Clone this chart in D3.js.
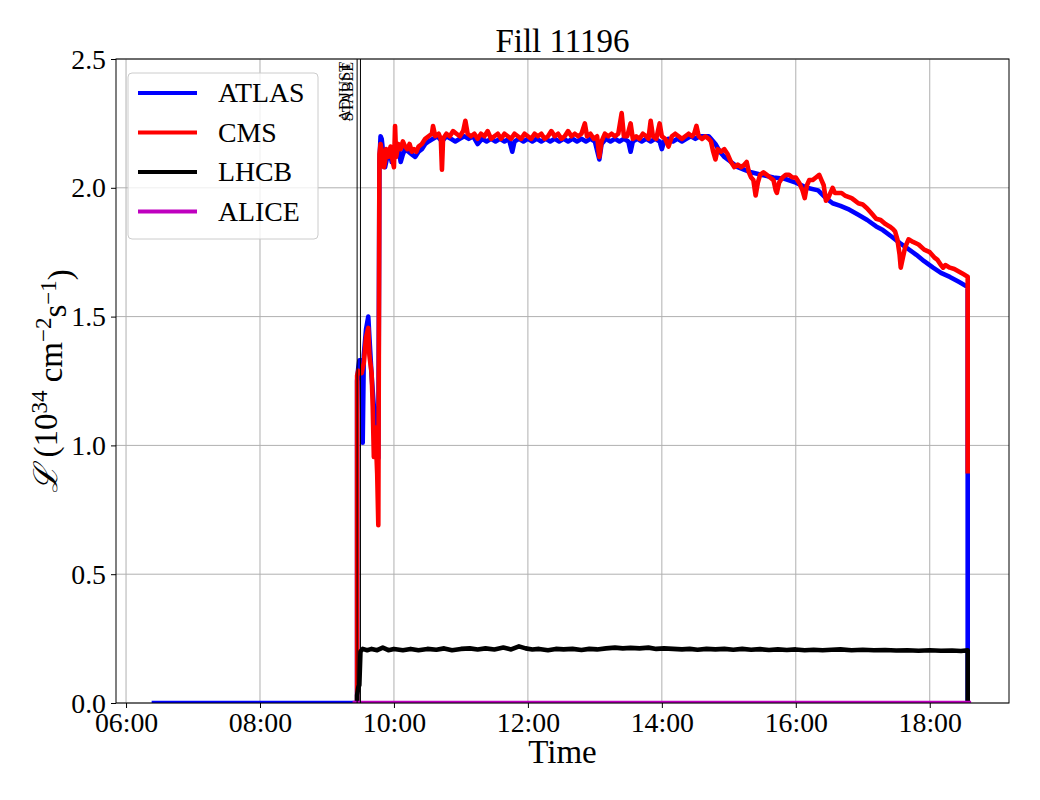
<!DOCTYPE html>
<meta charset="utf-8">
<style>
body { margin: 0; background: #fff; }
text { font-family: "Liberation Serif", "DejaVu Serif", serif; fill: #000; }
.grid line { stroke: #b0b0b0; stroke-width: 1px; }
.series { fill: none; stroke-width: 4.6px; stroke-linejoin: round; stroke-linecap: square; }
</style>
<body>
<script src="https://d3js.org/d3.v7.min.js"></script>
<script>

// luminosity per experiment, [time, 1e34 cm^-2 s^-1]
var atlas = [
  ["06:25",0],["09:27",0],["09:27",1.25],["09:28",1.30],["09:29",1.33],["09:31",1.33],["09:32",1.01],["09:33",1.35],
  ["09:35",1.45],["09:37",1.50],["09:38",1.42],["09:40",1.27],["09:42",1.15],["09:43",1.13],["09:45",0.98],["09:46",0.95],
  ["09:47",2.10],["09:48",2.20],["09:49",2.19],["09:50",2.15],["09:51",2.09],["09:52",2.08],["09:54",2.12],["09:56",2.15],
  ["09:58",2.10],["10:00",2.13],["10:02",2.15],["10:04",2.16],["10:06",2.10],["10:08",2.13],["10:10",2.15],["10:13",2.14],
  ["10:16",2.13],["10:19",2.12],["10:22",2.14],["10:25",2.15],["10:28",2.17],["10:31",2.18],["10:35",2.19],["10:39",2.20],
  ["10:43",2.18],["10:47",2.20],["10:51",2.19],["10:55",2.18],["10:59",2.19],["11:03",2.20],["11:07",2.19],["11:11",2.20],
  ["11:15",2.17],["11:19",2.19],["11:23",2.18],["11:27",2.19],["11:31",2.18],["11:35",2.19],["11:39",2.18],["11:43",2.19],
  ["11:46",2.14],["11:48",2.18],["11:52",2.19],["11:56",2.18],["12:00",2.19],["12:04",2.18],["12:08",2.19],["12:12",2.18],
  ["12:16",2.19],["12:20",2.18],["12:24",2.19],["12:28",2.18],["12:32",2.19],["12:36",2.18],["12:40",2.19],["12:44",2.18],
  ["12:48",2.19],["12:52",2.18],["12:56",2.19],["13:00",2.18],["13:04",2.11],["13:06",2.17],["13:10",2.19],["13:14",2.18],
  ["13:18",2.19],["13:22",2.18],["13:26",2.19],["13:30",2.18],["13:32",2.14],["13:34",2.18],["13:38",2.19],["13:42",2.18],
  ["13:46",2.19],["13:50",2.18],["13:54",2.19],["13:58",2.18],["14:00",2.15],["14:02",2.18],["14:06",2.19],["14:10",2.18],
  ["14:14",2.19],["14:18",2.18],["14:22",2.19],["14:26",2.20],["14:30",2.19],["14:34",2.20],["14:38",2.20],["14:42",2.20],
  ["14:44",2.19],["14:48",2.17],["14:52",2.14],["14:56",2.12],["15:02",2.10],["15:08",2.08],["15:14",2.07],["15:20",2.06],
  ["15:30",2.05],["15:40",2.04],["15:50",2.035],["16:00",2.02],["16:10",2.00],["16:20",1.99],["16:27",1.96],["16:33",1.94],
  ["16:40",1.93],["16:48",1.915],["16:56",1.895],["17:04",1.875],["17:12",1.85],["17:18",1.836],["17:26",1.81],["17:33",1.786],
  ["17:40",1.765],["17:48",1.74],["17:55",1.715],["18:03",1.69],["18:10",1.67],["18:18",1.654],["18:26",1.635],["18:34",1.615],
  ["18:34",0]
];

var cms = [
  ["09:27",0],["09:27",1.27],["09:28",1.29],["09:30",1.28],["09:31",1.28],["09:33",1.32],["09:35",1.42],["09:37",1.456],
  ["09:38",1.35],["09:40",1.28],["09:41",1.15],["09:42",0.955],["09:43",1.07],["09:44",1.00],["09:45",0.89],["09:46",0.69],
  ["09:47",2.13],["09:48",2.17],["09:50",2.12],["09:51",2.08],["09:52",2.10],["09:53",2.15],["09:55",2.12],["09:57",2.16],
  ["09:59",2.10],["10:00",2.08],["10:01",2.24],["10:02",2.12],["10:04",2.17],["10:06",2.15],["10:08",2.18],["10:10",2.16],
  ["10:12",2.15],["10:14",2.17],["10:16",2.14],["10:18",2.15],["10:20",2.14],["10:22",2.16],["10:25",2.17],["10:28",2.19],
  ["10:31",2.20],["10:34",2.21],["10:35",2.24],["10:37",2.20],["10:40",2.21],["10:42",2.19],["10:43",2.07],["10:44",2.19],
  ["10:47",2.21],["10:50",2.20],["10:53",2.22],["10:56",2.21],["10:59",2.20],["11:02",2.22],["11:04",2.26],["11:06",2.21],
  ["11:09",2.20],["11:12",2.21],["11:15",2.19],["11:18",2.21],["11:21",2.20],["11:24",2.22],["11:27",2.19],["11:30",2.20],
  ["11:33",2.21],["11:36",2.19],["11:39",2.21],["11:42",2.20],["11:45",2.19],["11:48",2.21],["11:51",2.20],["11:54",2.19],
  ["11:57",2.21],["12:00",2.20],["12:03",2.19],["12:06",2.21],["12:09",2.20],["12:12",2.21],["12:15",2.19],["12:18",2.20],
  ["12:21",2.22],["12:24",2.20],["12:27",2.21],["12:30",2.19],["12:33",2.20],["12:36",2.22],["12:39",2.20],["12:42",2.21],
  ["12:45",2.20],["12:48",2.21],["12:51",2.25],["12:53",2.20],["12:56",2.21],["12:59",2.19],["13:02",2.20],["13:04",2.12],
  ["13:06",2.18],["13:09",2.21],["13:12",2.20],["13:15",2.21],["13:18",2.20],["13:21",2.21],["13:24",2.29],["13:26",2.20],
  ["13:29",2.20],["13:32",2.25],["13:34",2.19],["13:37",2.20],["13:40",2.19],["13:43",2.21],["13:46",2.20],["13:48",2.19],
  ["13:50",2.26],["13:52",2.20],["13:55",2.19],["13:58",2.25],["14:00",2.20],["14:03",2.19],["14:06",2.16],["14:09",2.20],
  ["14:12",2.21],["14:15",2.20],["14:18",2.19],["14:21",2.20],["14:24",2.21],["14:27",2.20],["14:29",2.21],["14:31",2.24],
  ["14:33",2.20],["14:36",2.19],["14:39",2.20],["14:42",2.19],["14:44",2.18],["14:46",2.14],["14:48",2.11],["14:50",2.15],
  ["14:53",2.14],["14:56",2.15],["14:59",2.13],["15:02",2.10],["15:05",2.08],["15:08",2.09],["15:11",2.08],["15:14",2.09],
  ["15:16",2.10],["15:18",2.06],["15:20",2.04],["15:22",2.03],["15:24",1.97],["15:26",2.02],["15:28",2.05],["15:31",2.06],
  ["15:34",2.05],["15:37",2.04],["15:40",2.03],["15:42",1.99],["15:43",1.98],["15:45",2.02],["15:48",2.04],["15:51",2.05],
  ["15:54",2.05],["15:57",2.04],["16:00",2.04],["16:03",2.02],["16:06",1.99],["16:08",1.96],["16:10",2.01],["16:12",2.03],
  ["16:15",2.03],["16:18",2.04],["16:21",2.05],["16:23",2.03],["16:25",2.01],["16:27",1.95],["16:29",1.96],["16:31",1.98],
  ["16:33",2.00],["16:35",1.98],["16:38",1.98],["16:41",1.98],["16:44",1.97],["16:47",1.965],["16:50",1.96],["16:53",1.95],
  ["16:56",1.94],["17:00",1.935],["17:04",1.92],["17:08",1.90],["17:12",1.88],["17:16",1.875],["17:20",1.86],["17:24",1.85],
  ["17:27",1.84],["17:29",1.83],["17:31",1.80],["17:33",1.74],["17:34",1.69],["17:36",1.73],["17:38",1.77],["17:41",1.80],
  ["17:45",1.79],["17:50",1.78],["17:55",1.76],["18:00",1.75],["18:04",1.73],["18:07",1.72],["18:10",1.70],["18:12",1.69],
  ["18:14",1.70],["18:18",1.69],["18:22",1.685],["18:26",1.675],["18:30",1.665],["18:34",1.655],["18:34",0.90]
];

var lhcb = [
  ["09:27",0],["09:27",0.03],["09:28",0.06],["09:29",0.07],["09:30",0.20],["09:32",0.21],["09:36",0.205],["09:40",0.21],
  ["09:45",0.205],["09:50",0.215],["09:55",0.205],["10:00",0.21],["10:08",0.205],["10:15",0.21],["10:22",0.205],["10:30",0.21],
  ["10:38",0.207],["10:45",0.212],["10:52",0.205],["11:00",0.21],["11:08",0.212],["11:15",0.208],["11:22",0.212],["11:30",0.208],
  ["11:38",0.215],["11:45",0.208],["11:52",0.22],["11:58",0.212],["12:04",0.208],["12:10",0.21],["12:18",0.205],["12:25",0.21],
  ["12:32",0.208],["12:40",0.21],["12:48",0.206],["12:55",0.21],["13:02",0.208],["13:10",0.212],["13:18",0.215],["13:25",0.212],
  ["13:32",0.214],["13:40",0.212],["13:48",0.215],["13:55",0.21],["14:02",0.212],["14:10",0.21],["14:18",0.208],["14:25",0.21],
  ["14:32",0.207],["14:40",0.21],["14:48",0.208],["14:56",0.21],["15:04",0.207],["15:12",0.21],["15:20",0.207],["15:28",0.209],
  ["15:36",0.206],["15:44",0.208],["15:52",0.206],["16:00",0.208],["16:08",0.205],["16:16",0.207],["16:24",0.205],["16:32",0.207],
  ["16:40",0.208],["16:50",0.205],["17:00",0.207],["17:10",0.205],["17:20",0.206],["17:30",0.204],["17:40",0.205],["17:50",0.203],
  ["18:00",0.205],["18:10",0.203],["18:20",0.204],["18:28",0.202],["18:34",0.205],["18:34",0]
];

var alice = [["09:25",0],["18:35",0]];

var seriesNames = ["ATLAS", "CMS", "LHCB", "ALICE"];
var seriesColors = ["#0000ff", "#ff0000", "#000000", "#bf00bf"];
var beamModes = [["ADJUST", "09:27"], ["STABLE", "09:30"]];
var yTicks = [0, 0.5, 1.0, 1.5, 2.0, 2.5];
var xTicks = ["06:00", "08:00", "10:00", "12:00", "14:00", "16:00", "18:00"];

var W = 1040, H = 800;
var margin = {top: 59, right: 31, bottom: 97, left: 116},
    width = W - margin.left - margin.right,
    height = H - margin.top - margin.bottom;

var serif = "'Liberation Serif', 'DejaVu Serif', serif";
var parseTime = d3.timeParse("%H:%M");

var x = d3.scaleTime().domain([parseTime("05:51"), parseTime("19:11")]).range([0, width]);
var y = d3.scaleLinear().domain([0, 2.5]).range([height, 0]);

var svg = d3.select("body").append("svg")
    .attr("width", W)
    .attr("height", H);

var g = svg.append("g")
    .attr("transform", "translate(" + margin.left + "," + margin.top + ")");

svg.append("defs").append("clipPath").attr("id", "plot")
  .append("rect").attr("width", width).attr("height", height);

// grid
g.append("g").attr("class", "grid")
  .selectAll("line").data(xTicks).enter().append("line")
    .attr("x1", function(d) { return x(parseTime(d)); })
    .attr("x2", function(d) { return x(parseTime(d)); })
    .attr("y1", 0).attr("y2", height);
g.append("g").attr("class", "grid")
  .selectAll("line").data(yTicks).enter().append("line")
    .attr("y1", function(d) { return y(d); })
    .attr("y2", function(d) { return y(d); })
    .attr("x1", 0).attr("x2", width);

// series
var line = d3.line()
    .x(function(d) { return x(parseTime(d[0])); })
    .y(function(d) { return y(d[1]); });

var data = [atlas, cms, lhcb, alice];
var plot = g.append("g").attr("clip-path", "url(#plot)");
data.forEach(function(s, i) {
  plot.append("path")
      .datum(s)
      .attr("class", "series")
      .style("stroke", seriesColors[i])
      .attr("d", line);
});

// beam mode markers
beamModes.forEach(function(m) {
  var bx = x(parseTime(m[1]));
  g.append("line")
      .attr("x1", bx).attr("x2", bx)
      .attr("y1", 0).attr("y2", height)
      .style("stroke", "#000").style("stroke-width", 1);
  g.append("text")
      .attr("transform", "translate(" + (bx - 7) + ",3) rotate(-90)")
      .attr("text-anchor", "end")
      .style("font-size", "16px")
      .text(m[0]);
});

// axes
var xAxis = d3.axisBottom(x)
    .tickValues(xTicks.map(parseTime))
    .tickFormat(d3.timeFormat("%H:%M"))
    .tickSize(5).tickPadding(5);
var yAxis = d3.axisLeft(y)
    .tickValues(yTicks)
    .tickFormat(d3.format(".1f"))
    .tickSize(5).tickPadding(5);

var gx = g.append("g").attr("transform", "translate(0," + height + ")").call(xAxis);
var gy = g.append("g").call(yAxis);
[gx, gy].forEach(function(a) {
  a.attr("font-family", null).attr("font-size", null);
  a.select(".domain").remove();
  a.selectAll(".tick line").style("stroke", "#000");
  a.selectAll("text").style("font-family", serif).style("font-size", "27.8px").style("fill", "#000");
});
gx.selectAll("text").attr("dy", "0.72em").attr("y", 9);
gy.selectAll("text").attr("dy", "0.33em");

g.append("rect")
    .attr("width", width).attr("height", height)
    .style("fill", "none").style("stroke", "#000").style("stroke-width", 1);

// legend
var leg = g.append("g").attr("transform", "translate(12,14)");
leg.append("rect")
    .attr("width", 190).attr("height", 166).attr("rx", 4)
    .style("fill", "#fff").style("fill-opacity", 0.8)
    .style("stroke", "#cccccc").style("stroke-width", 1);
seriesNames.forEach(function(n, i) {
  var ly = 20 + i * 39.5;
  leg.append("line")
      .attr("x1", 10).attr("x2", 69).attr("y1", ly).attr("y2", ly)
      .style("stroke", seriesColors[i]).style("stroke-width", 4);
  leg.append("text")
      .attr("x", 90).attr("y", ly).attr("dy", "0.33em")
      .style("font-size", "27.8px")
      .text(n);
});

// title and labels
svg.append("text")
    .attr("x", margin.left + width / 2).attr("y", 52)
    .attr("text-anchor", "middle")
    .style("font-size", "33px")
    .text("Fill 11196");

svg.append("text")
    .attr("x", margin.left + width / 2).attr("y", 763)
    .attr("text-anchor", "middle")
    .style("font-size", "33px")
    .text("Time");

var yl = svg.append("text")
    .attr("transform", "translate(57," + (margin.top + height / 2) + ") rotate(-90)")
    .attr("text-anchor", "middle")
    .style("font-size", "33px");
yl.append("tspan").style("font-family", "'DejaVu Serif', serif").style("font-style", "italic").text("\u2112");
yl.append("tspan").text(" (10");
yl.append("tspan").attr("dy", "-0.45em").style("font-size", "23px").text("34");
yl.append("tspan").attr("dy", "0.45em").text(" cm");
yl.append("tspan").attr("dy", "-0.45em").style("font-size", "23px").text("\u22122");
yl.append("tspan").attr("dy", "0.45em").text("s");
yl.append("tspan").attr("dy", "-0.45em").style("font-size", "23px").text("\u22121");
yl.append("tspan").attr("dy", "0.45em").text(")");

</script>
</body>
